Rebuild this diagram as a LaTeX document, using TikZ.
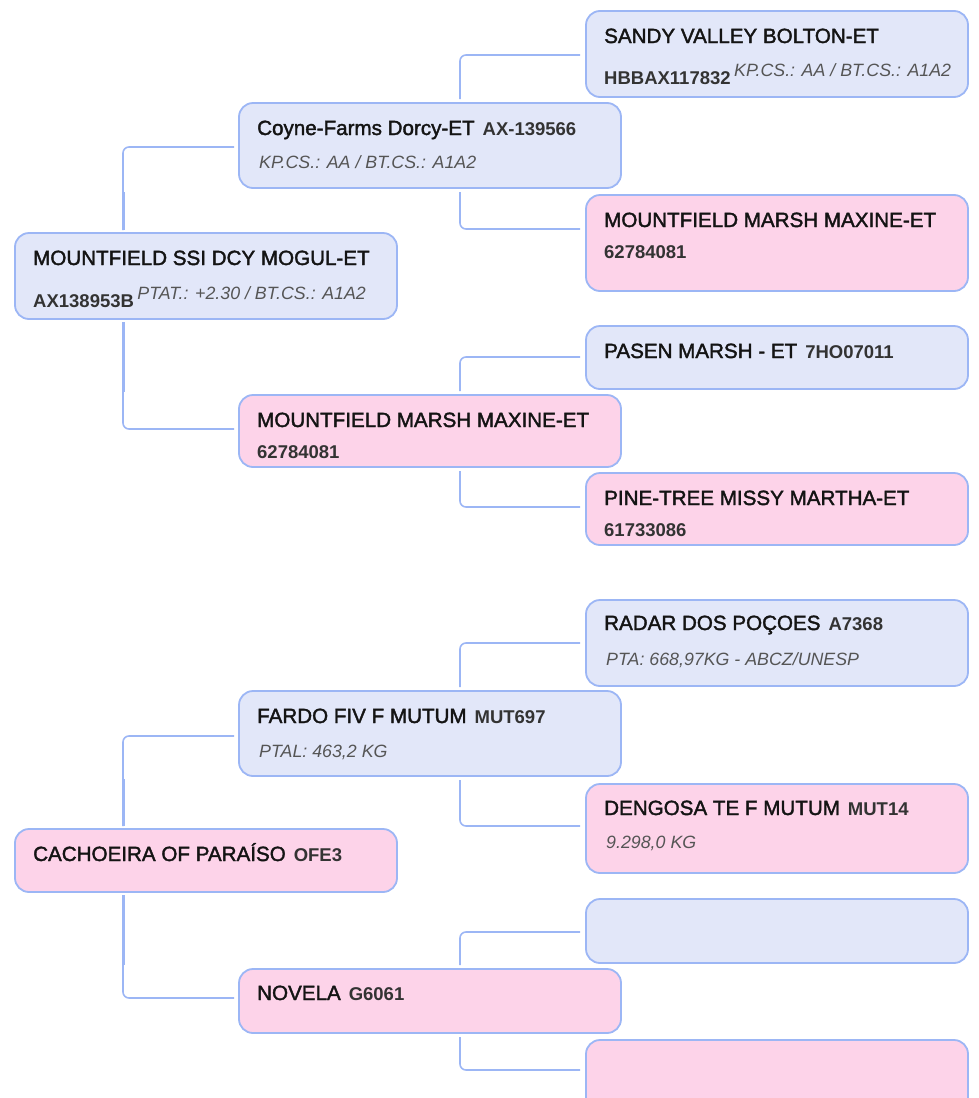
\documentclass[tikz,border=0pt]{standalone}
\usepackage{fontspec}
\setmainfont{Liberation Sans}
\newfontface\namefont{Liberation Sans}[FakeBold=1.8]
\usetikzlibrary{positioning}
\definecolor{cardblue}{HTML}{E2E7F9}
\definecolor{cardpink}{HTML}{FDD3E9}
\definecolor{cardedge}{HTML}{9CB6F5}
\definecolor{linkblue}{HTML}{9CB6F5}
\definecolor{idgray}{HTML}{333333}
\definecolor{infogray}{HTML}{555555}
\newcommand{\pregno}[1]{{\normalfont\bfseries\fontsize{18.5}{22}\selectfont\color{idgray}#1}}
\newcommand{\pinfo}[1]{{\normalfont\itshape\fontsize{17.8}{21}\selectfont\color{infogray}#1}}
\tikzset{
    card/.style={draw=cardedge, line width=1.8pt, rounded corners=14pt,
        anchor=north west, minimum width=382pt, inner sep=0pt, outer sep=0pt},
    male/.style={card, fill=cardblue},
    female/.style={card, fill=cardpink},
    txt/.style={anchor=base west, inner sep=0pt,
        font=\namefont\fontsize{20.6}{24}\selectfont, text=black!92},
    link/.style={draw=linkblue, line width=1.6pt, rounded corners=6pt},
    stub/.style={draw=linkblue, line width=3pt}
}

\begin{document}
\begin{tikzpicture}[x=1pt,y=-1pt]
    \useasboundingbox (0,0) rectangle (978,1098);

    % first pedigree
    \node[male, minimum height=86pt] (r) at (15,233) {};
    \node[male, minimum height=85pt] (s) at (239,103) {};
    \node[female, minimum height=72pt] (d) at (239,395) {};
    \node[male, minimum height=86pt] (ss) at (586,11) {};
    \node[female, minimum height=96pt] (sd) at (586,195) {};
    \node[male, minimum height=63pt] (ds) at (586,326) {};
    \node[female, minimum height=72pt] (dd) at (586,473) {};

    \node[txt] (r-a) at ([shift={(18,32)}]r.north west) {MOUNTFIELD SSI DCY MOGUL-ET};
    \node[txt] (r-b) at ([shift={(18,74)}]r.north west)
        {\pregno{AX138953B}\,\raisebox{8pt}{\pinfo{PTAT.: +2.30 / BT.CS.: A1A2}}};
    \node[txt] (s-a) at ([shift={(18,32)}]s.north west)
        {Coyne-Farms Dorcy-ET\hspace{8pt}\pregno{AX-139566}};
    \node[txt] (s-b) at ([shift={(20,65)}]s.north west) {\pinfo{KP.CS.: AA / BT.CS.: A1A2}};
    \node[txt] (d-a) at ([shift={(18,32)}]d.north west) {MOUNTFIELD MARSH MAXINE-ET};
    \node[txt] (d-b) at ([shift={(18,63)}]d.north west) {\pregno{62784081}};
    \node[txt] (ss-a) at ([shift={(18,32)}]ss.north west) {SANDY VALLEY BOLTON-ET};
    \node[txt] (ss-b) at ([shift={(18,73)}]ss.north west)
        {\pregno{HBBAX117832}\,\raisebox{8pt}{\pinfo{KP.CS.: AA / BT.CS.: A1A2}}};
    \node[txt] (sd-a) at ([shift={(18,32)}]sd.north west) {MOUNTFIELD MARSH MAXINE-ET};
    \node[txt] (sd-b) at ([shift={(18,63)}]sd.north west) {\pregno{62784081}};
    \node[txt] (ds-a) at ([shift={(18,32)}]ds.north west)
        {PASEN MARSH - ET\hspace{8pt}\pregno{7HO07011}};
    \node[txt] (dd-a) at ([shift={(18,32)}]dd.north west) {PINE-TREE MISSY MARTHA-ET};
    \node[txt] (dd-b) at ([shift={(18,63)}]dd.north west) {\pregno{61733086}};

    \draw[link] ([shift={(108,-3)}]r.north west) |- ([shift={(-5,44)}]s.north west);
    \draw[link] ([shift={(108,3)}]r.south west) |- ([shift={(-5,34)}]d.north west);
    \draw[stub] ([shift={(108,-3)}]r.north west) -- ++(0,-38);
    \draw[stub] ([shift={(108,3)}]r.south west) -- ++(0,70);
    \draw[link] ([shift={(221,-4)}]s.north west) |- ([shift={(-6,44)}]ss.north west);
    \draw[link] ([shift={(221,4)}]s.south west) |- ([shift={(-6,34)}]sd.north west);
    \draw[link] ([shift={(221,-4)}]d.north west) |- ([shift={(-6,31)}]ds.north west);
    \draw[link] ([shift={(221,4)}]d.south west) |- ([shift={(-6,34)}]dd.north west);

    % second pedigree
    \node[female, minimum height=63pt] (r2) at (15,829) {};
    \node[male, minimum height=85pt] (s2) at (239,691) {};
    \node[female, minimum height=64pt] (d2) at (239,969) {};
    \node[male, minimum height=86pt] (ss2) at (586,600) {};
    \node[female, minimum height=89pt] (sd2) at (586,784) {};
    \node[male, minimum height=64pt] (ds2) at (586,899) {};
    \node[female, minimum height=86pt] (dd2) at (586,1040) {};

    \node[txt] (r2-a) at ([shift={(18,32)}]r2.north west)
        {CACHOEIRA OF PARAÍSO\hspace{8pt}\pregno{OFE3}};
    \node[txt] (s2-a) at ([shift={(18,32)}]s2.north west)
        {FARDO FIV F MUTUM\hspace{8pt}\pregno{MUT697}};
    \node[txt] (s2-b) at ([shift={(20,66)}]s2.north west) {\pinfo{PTAL: 463,2 KG}};
    \node[txt] (d2-a) at ([shift={(18,31)}]d2.north west) {NOVELA\hspace{8pt}\pregno{G6061}};
    \node[txt] (ss2-a) at ([shift={(18,30)}]ss2.north west)
        {RADAR DOS POÇOES\hspace{8pt}\pregno{A7368}};
    \node[txt] (ss2-b) at ([shift={(20,65)}]ss2.north west) {\pinfo{PTA: 668,97KG - ABCZ/UNESP}};
    \node[txt] (sd2-a) at ([shift={(18,31)}]sd2.north west)
        {DENGOSA TE F MUTUM\hspace{8pt}\pregno{MUT14}};
    \node[txt] (sd2-b) at ([shift={(20,64)}]sd2.north west) {\pinfo{9.298,0 KG}};

    \draw[link] ([shift={(108,-3)}]r2.north west) |- ([shift={(-5,45)}]s2.north west);
    \draw[link] ([shift={(108,3)}]r2.south west) |- ([shift={(-5,29)}]d2.north west);
    \draw[stub] ([shift={(108,-3)}]r2.north west) -- ++(0,-47);
    \draw[stub] ([shift={(108,3)}]r2.south west) -- ++(0,70);
    \draw[link] ([shift={(221,-4)}]s2.north west) |- ([shift={(-6,43)}]ss2.north west);
    \draw[link] ([shift={(221,4)}]s2.south west) |- ([shift={(-6,42)}]sd2.north west);
    \draw[link] ([shift={(221,-4)}]d2.north west) |- ([shift={(-6,33)}]ds2.north west);
    \draw[link] ([shift={(221,4)}]d2.south west) |- ([shift={(-6,30)}]dd2.north west);
\end{tikzpicture}
\end{document}
